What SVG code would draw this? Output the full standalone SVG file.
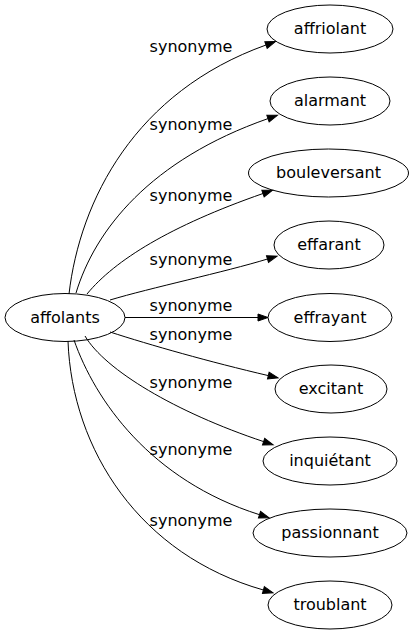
<svg xmlns="http://www.w3.org/2000/svg" width="416" height="635" viewBox="0 0 416 635">
<style>
.node ellipse{fill:none;stroke:#000;stroke-width:1}
text{font-family:"DejaVu Sans",Verdana,sans-serif;font-size:16px;fill:#000;text-anchor:middle}
.edges path{fill:none;stroke:#000;stroke-width:1}
</style>
<defs>
<marker id="arr" markerUnits="userSpaceOnUse" markerWidth="10" markerHeight="7" refX="0" refY="3.5" orient="auto" overflow="visible">
<path d="M0,0 L10,3.5 L0,7 z" fill="#000" stroke="#000" stroke-width="1"/>
</marker>
</defs>
<rect width="416" height="635" fill="#fff"/>
<g class="edges">
<path d="M69,294 C80,200 135,92 266,45" marker-end="url(#arr)"/>
<text x="191" y="52">synonyme</text>
<path d="M76,293 C95,230 150,160 268,118.6" marker-end="url(#arr)"/>
<text x="191" y="130">synonyme</text>
<path d="M87,294 C115,260 170,226 263,193.5" marker-end="url(#arr)"/>
<text x="191" y="201">synonyme</text>
<path d="M110,300 C150,288 225,272 267.5,259" marker-end="url(#arr)"/>
<text x="191" y="265">synonyme</text>
<path d="M125,317.5 L258,317.5" marker-end="url(#arr)"/>
<text x="191" y="311">synonyme</text>
<path d="M110,332 C150,345 210,362 268.3,375.6" marker-end="url(#arr)"/>
<text x="191" y="340">synonyme</text>
<path d="M85,336 C105,370 175,412 263.6,441.6" marker-end="url(#arr)"/>
<text x="191" y="388">synonyme</text>
<path d="M74,340 C95,400 150,480 259.5,514.7" marker-end="url(#arr)"/>
<text x="191" y="455">synonyme</text>
<path d="M68,341 C72,450 140,555 263.4,590" marker-end="url(#arr)"/>
<text x="191" y="526">synonyme</text>
</g>
<g id="affolants" class="node"><ellipse cx="65" cy="317.5" rx="60" ry="24"/><text x="65" y="322.5">affolants</text></g>
<g id="affriolant" class="node"><ellipse cx="330" cy="29" rx="63" ry="24"/><text x="330" y="34">affriolant</text></g>
<g id="alarmant" class="node"><ellipse cx="330" cy="101" rx="60" ry="24"/><text x="330" y="106">alarmant</text></g>
<g id="bouleversant" class="node"><ellipse cx="328.5" cy="173" rx="80" ry="24"/><text x="328.5" y="178">bouleversant</text></g>
<g id="effarant" class="node"><ellipse cx="329" cy="245" rx="55" ry="24"/><text x="329" y="250">effarant</text></g>
<g id="effrayant" class="node"><ellipse cx="330" cy="317.5" rx="62" ry="24"/><text x="330" y="322.5">effrayant</text></g>
<g id="excitant" class="node"><ellipse cx="331" cy="389" rx="56" ry="24"/><text x="331" y="394">excitant</text></g>
<g id="inquietant" class="node"><ellipse cx="330" cy="461" rx="67" ry="24"/><text x="330" y="466">inquiétant</text></g>
<g id="passionnant" class="node"><ellipse cx="330" cy="533" rx="77" ry="24"/><text x="330" y="538">passionnant</text></g>
<g id="troublant" class="node"><ellipse cx="330" cy="605" rx="62" ry="24"/><text x="330" y="610">troublant</text></g>
</svg>
